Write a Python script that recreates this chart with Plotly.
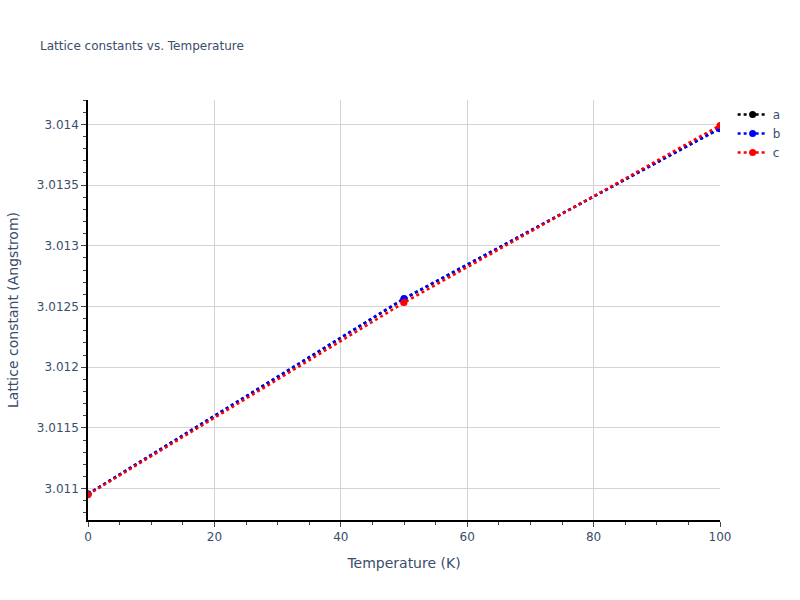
import plotly.graph_objects as go

# Lattice constants (Angstrom)
temperatures = [0, 50, 100]
lattice_a = [3.010955, 3.012562, 3.013968]
lattice_b = [3.010955, 3.012566, 3.013965]
lattice_c = [3.010950, 3.012532, 3.013992]

series_names = ["a", "b", "c"]
series_colors = ["black", "blue", "red"]

fig = go.Figure()

for name, values, color in zip(series_names, [lattice_a, lattice_b, lattice_c], series_colors):
    fig.add_trace(
        go.Scatter(
            x=temperatures,
            y=values,
            mode="lines+markers",
            name=name,
            line=dict(color=color, dash="dot", width=2.5),
            marker=dict(color=color, size=7),
        )
    )

axis_style = dict(
    showline=True,
    linecolor="black",
    linewidth=1.5,
    ticks="outside",
    tickcolor="#444",
    showgrid=True,
    gridcolor="lightgray",
    zeroline=False,
    minor=dict(ticks="outside", tickcolor="#444"),
)

fig.update_layout(
    template="plotly_white",
    width=800,
    height=600,
    font=dict(family="DejaVu Sans", color="#3b4d6b"),
    title=dict(text="Lattice constants vs. Temperature", font=dict(size=12)),
    showlegend=True,
)
fig.update_xaxes(title_text="Temperature (K)", range=[0, 100], **axis_style)
fig.update_yaxes(title_text="Lattice constant (Angstrom)", **axis_style)

# drop the page's default body margin so the figure sits at the top-left corner
fig.write_html(
    "out.html",
    config={"displayModeBar": False},
    post_script="document.body.style.margin='0';",
)
